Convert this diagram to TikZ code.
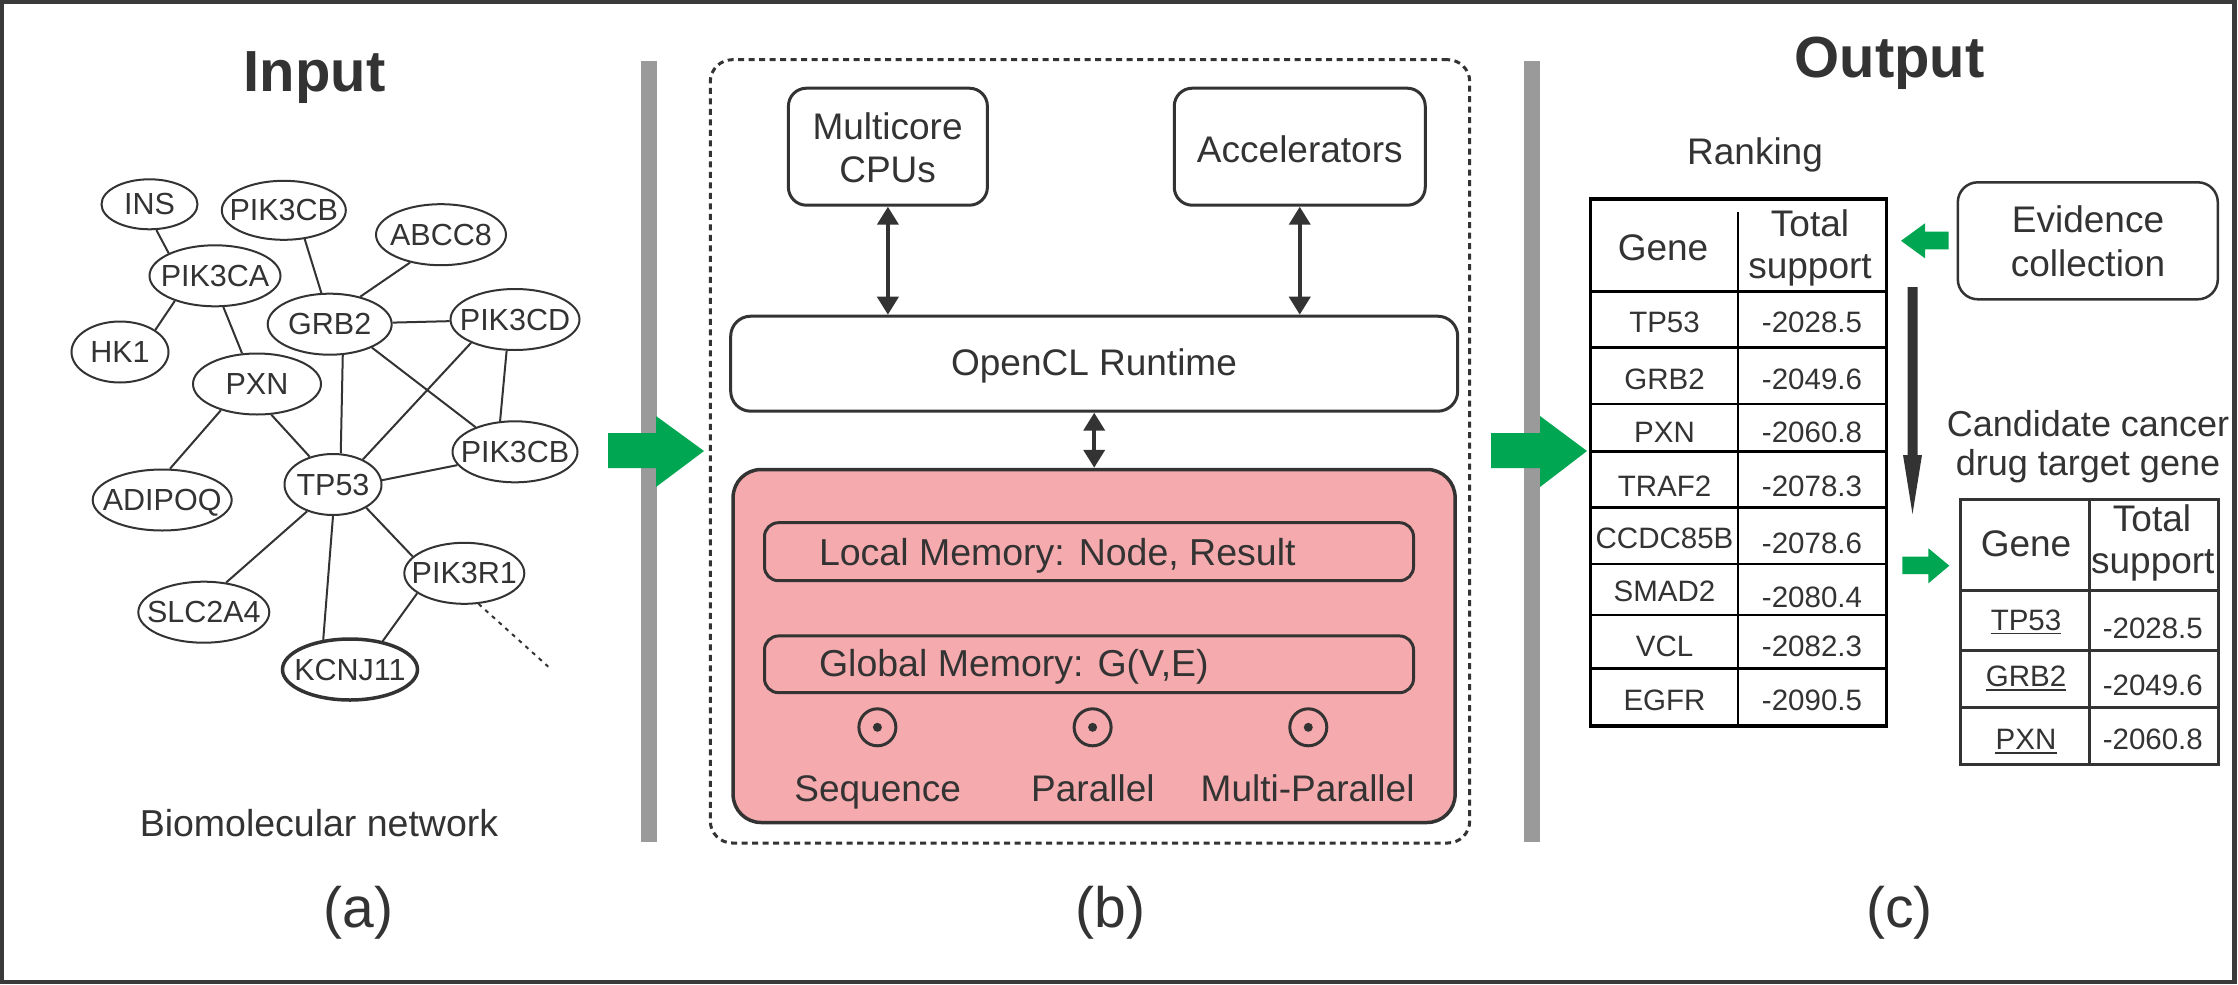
\documentclass[tikz,border=0pt]{standalone}
\usepackage{fontspec}
\setmainfont{Liberation Sans}
\usetikzlibrary{arrows.meta,shapes.geometric}
\definecolor{ink}{HTML}{333333}
\definecolor{framec}{HTML}{3A3A3A}
\definecolor{barc}{HTML}{9A9A9A}
\definecolor{grn}{HTML}{00A651}
\definecolor{pinkc}{HTML}{F5ABAE}
\newcommand\gtxt[1]{\raisebox{-0.5\height}[0pt][0pt]{\makebox[0pt]{#1}}}
\newcommand\fsz[1]{\fontsize{#1}{#1}\selectfont}
\begin{document}
\begin{tikzpicture}[x=1pt,y=-1pt,
  gene/.style={ellipse, draw=ink, line width=2pt, fill=white, inner sep=0pt, minimum height=61pt, text=ink, font=\fsz{30.5}},
  edge/.style={draw=ink, line width=2pt},
  lbl/.style={anchor=base, inner sep=0pt, text=ink},
  rbox/.style={draw=ink, line width=3pt, fill=white, inner sep=0pt, rounded corners=18pt},
  membox/.style={draw=ink, line width=3pt, inner sep=0pt, rounded corners=14pt, minimum width=649pt},
  dot/.style={circle, draw=ink, line width=3pt, minimum size=37pt, inner sep=0pt},
  dbl/.style={draw=ink, line width=4pt, {Triangle[width=21pt,length=18pt]}-{Triangle[width=21pt,length=18pt]}},
]
\useasboundingbox (0,0) rectangle (2238,985);
\fill[white] (0,0) rectangle (2238,985);
\draw[framec, line width=4.5pt] (2.2,2) rectangle (2234.3,982);

% separator bars
\fill[barc] (641,61) rectangle (657,842);
\fill[barc] (1524,61) rectangle (1540,842);

% ---------------- panel (a)
\node[lbl, font=\bfseries\fsz{58}] (input) at (314.7,91) {Input};

\node[gene, minimum width=96pt, minimum height=50pt] (ins) at (149.5,204.3) {\gtxt{INS}};
\node[gene, minimum width=124pt, minimum height=59pt] (pik3cba) at (283.8,210.3) {\gtxt{PIK3CB}};
\node[gene, minimum width=130pt] (abcc8) at (441,234.7) {\gtxt{ABCC8}};
\node[gene, minimum width=131pt] (pik3ca) at (215,275.8) {\gtxt{PIK3CA}};
\node[gene, minimum width=124pt] (grb2) at (329.7,324.2) {\gtxt{GRB2}};
\node[gene, minimum width=129pt] (pik3cd) at (515,319.5) {\gtxt{PIK3CD}};
\node[gene, minimum width=97pt] (hk1) at (120,352) {\gtxt{HK1}};
\node[gene, minimum width=128pt] (pxn) at (257,384) {\gtxt{PXN}};
\node[gene, minimum width=125pt] (pik3cbb) at (515,451.8) {\gtxt{PIK3CB}};
\node[gene, minimum width=97pt] (tp53) at (333,484.5) {\gtxt{TP53}};
\node[gene, minimum width=139pt] (adipoq) at (162.2,500) {\gtxt{ADIPOQ}};
\node[gene, minimum width=120pt] (pik3r1) at (464.3,573.3) {\gtxt{PIK3R1}};
\node[gene, minimum width=131pt] (slc2a4) at (203.8,612.2) {\gtxt{SLC2A4}};
\node[gene, minimum width=135pt, line width=3.5pt] (kcnj11) at (350,669.5) {\gtxt{KCNJ11}};
\coordinate (dotend) at (548.3,666.7);

\draw[edge] (ins.-75) -- (pik3ca.154);
\draw[edge] (pik3ca.212) -- (hk1.32);
\draw[edge] (pik3ca.-75) -- (pxn.116);
\draw[edge] (pik3cba.-54) -- (grb2.105);
\draw[edge] (pxn.216) -- (adipoq.76);
\draw[edge] (pxn.-65) -- (tp53.130);
\draw[edge] (grb2.-67) -- (tp53.76);
\draw[edge] (grb2.42) -- (abcc8.222);
\draw[edge] (grb2) -- (pik3cd);
\draw[edge] (grb2.-29) -- (pik3cbb.148);
\draw[edge] (pik3cd.208) -- (tp53.40);
\draw[edge] (pik3cd.255) -- (pik3cbb.116);
\draw[edge] (tp53.5) -- (pik3cbb.193);
\draw[edge] (tp53.-35) -- (pik3r1.162);
\draw[edge] (tp53.-90) -- (kcnj11.132);
\draw[edge] (pik3r1.203) -- (kcnj11.41);
\draw[edge] (tp53.226) -- (slc2a4.53);
\draw[ink, line width=2pt, dash pattern=on 4pt off 5pt] (pik3r1.-65) -- (dotend);

\node[lbl, font=\fsz{37.5}] (bionet) at (319,836) {Biomolecular network};
\node[lbl, font=\fsz{57}] (pa) at (358.7,927) {(a)};

% big green arrow (a)->(b)
\fill[grn] (608,433) -- (656,433) -- (656,416) -- (704,451) -- (656,487) -- (656,468) -- (608,468) -- cycle;

% ---------------- panel (b)
\node[draw=ink, line width=3pt, dash pattern=on 6pt off 4.5pt, rounded corners=22pt,
      minimum width=759.4pt, minimum height=783.3pt, inner sep=0pt] (hw) at (1090,451.35) {};
\node[rbox, minimum width=199pt, minimum height=117pt] (cpu) at (887.9,146.7) {};
\node[lbl, font=\fsz{37}] (cput1) at (887.6,139) {Multicore};
\node[lbl, font=\fsz{37}] (cput2) at (887.6,182) {CPUs};
\node[rbox, minimum width=251pt, minimum height=117pt] (acc) at (1299.75,146.7) {};
\node[lbl, font=\fsz{37}] (acct) at (1299.8,162) {Accelerators};
\node[rbox, minimum width=727pt, minimum height=95pt, rounded corners=20pt] (ocl) at (1094.2,363.7) {};
\node[lbl, font=\fsz{37}] (oclt) at (1094,375) {OpenCL Runtime};
\node[draw=ink, line width=3.5pt, fill=pinkc, rounded corners=28pt, minimum width=722pt,
      minimum height=353pt, inner sep=0pt] (dev) at (1094.1,646) {};
\node[membox, minimum height=58pt] (lmem) at (1089,551.7) {};
\node[lbl, anchor=base west, font=\fsz{37.5}] (lmemt) at (818.8,565) {Local Memory: Node, Result};
\node[membox, minimum height=56.7pt] (gmem) at (1089,664.3) {};
\node[lbl, anchor=base west, font=\fsz{37.5}] (gmemt) at (818.8,676.7) {Global Memory: G(V,E)};
\node[dot] (seqc) at (877.4,727.3) {};
\node[dot] (parc) at (1092.6,727.3) {};
\node[dot] (mparc) at (1308.3,727.3) {};
\fill[ink] (seqc.center) circle (4.5pt);
\fill[ink] (parc.center) circle (4.5pt);
\fill[ink] (mparc.center) circle (4.5pt);
\node[lbl, font=\fsz{37}] (seqt) at (877.7,801.7) {Sequence};
\node[lbl, font=\fsz{37}] (part) at (1092.9,801.7) {Parallel};
\node[lbl, font=\fsz{37}] (mpart) at (1307.6,801.7) {Multi-Parallel};

\draw[dbl] (cpu.south) -- (cpu.south |- ocl.north);
\draw[dbl] (acc.south) -- (acc.south |- ocl.north);
\draw[dbl] (ocl.south) -- (ocl.south |- dev.north);

\node[lbl, font=\fsz{57}] (pb) at (1110.4,927) {(b)};

% big green arrow (b)->(c)
\fill[grn] (1491,433) -- (1540,433) -- (1540,416) -- (1587,451) -- (1540,487) -- (1540,468) -- (1491,468) -- cycle;

% ---------------- panel (c)
\node[lbl, font=\bfseries\fsz{58}] (output) at (1889.5,77.5) {Output};
\node[lbl, font=\fsz{37}] (ranking) at (1755,164.6) {Ranking};

\draw[black, line width=3.5pt] (1590.5,199) rectangle (1886.3,726);
\draw[black, line width=2.5pt] (1738.2,212) -- (1738.2,726);
\foreach \yy in {291.7,347.7,404,451.7,507.7,564,615,668.7}
  \draw[black, line width=2.5pt] (1590.5,\yy) -- (1886.3,\yy);
\node[lbl, font=\fsz{37}] (rhg) at (1663,260) {Gene};
\node[lbl, font=\fsz{37}] (rht1) at (1810,236) {Total};
\node[lbl, font=\fsz{37}] (rht2) at (1810,278.3) {support};
\begin{scope}[every node/.style={lbl, font=\fsz{29.5}}]
\node (r1g) at (1664.5,332.7) {TP53};    \node (r1v) at (1812,332.7) {-2028.5};
\node (r2g) at (1664.5,389.3) {GRB2};    \node (r2v) at (1812,389.3) {-2049.6};
\node (r3g) at (1664.5,442.7) {PXN};     \node (r3v) at (1812,442.7) {-2060.8};
\node (r4g) at (1664.5,496.7) {TRAF2};   \node (r4v) at (1812,496.7) {-2078.3};
\node (r5g) at (1664.5,548.3) {CCDC85B}; \node (r5v) at (1812,553.3) {-2078.6};
\node (r6g) at (1664.5,601.7) {SMAD2};   \node (r6v) at (1812,607.3) {-2080.4};
\node (r7g) at (1664.5,656.7) {VCL};     \node (r7v) at (1812,656.7) {-2082.3};
\node (r8g) at (1664.5,710) {EGFR};      \node (r8v) at (1812,710) {-2090.5};
\end{scope}

\node[draw=ink, line width=2.5pt, rounded corners=20pt, minimum width=260pt, minimum height=117pt, inner sep=0pt] (evid) at (2087.8,240.8) {};
\node[lbl, font=\fsz{37}] (evt1) at (2088,232.7) {Evidence};
\node[lbl, font=\fsz{37}] (evt2) at (2088,276) {collection};

\fill[grn] (1901,240.8) -- (1925,223.3) -- (1925,231.7) -- (1948.5,231.7) -- (1948.5,249.3) -- (1925,249.3) -- (1925,258.3) -- cycle;
\fill[ink] (1907.5,287) -- (1917.5,287) -- (1917.5,455) -- (1922,455) -- (1912.5,514) -- (1903,455) -- (1907.5,455) -- cycle;
\fill[grn] (1902.3,556.7) -- (1928.4,556.7) -- (1928.4,548.3) -- (1949.3,565.7) -- (1928.4,583.3) -- (1928.4,574) -- (1902.3,574) -- cycle;

\node[lbl, font=\fsz{36}] (cand1) at (2088,436.7) {Candidate cancer};
\node[lbl, font=\fsz{36}] (cand2) at (2088,475.5) {drug target gene};

\draw[ink, line width=3pt] (1960.5,499.3) rectangle (2218.9,764);
\draw[ink, line width=3pt] (2089.3,499.3) -- (2089.3,764);
\foreach \yy in {590,650.7,707.3}
  \draw[ink, line width=3pt] (1960.5,\yy) -- (2218.9,\yy);
\node[lbl, font=\fsz{37}] (chg) at (2026,556.7) {Gene};
\node[lbl, font=\fsz{37}] (cht1) at (2152,531.7) {Total};
\node[lbl, font=\fsz{37}] (cht2) at (2152.8,573.3) {support};
\begin{scope}[every node/.style={lbl, font=\fsz{29.5}}]
\node (c1g) at (2026,630) {TP53};   \node (c1v) at (2152.8,638.3) {-2028.5};
\node (c2g) at (2026,686.7) {GRB2}; \node (c2v) at (2152.8,695) {-2049.6};
\node (c3g) at (2026,749.3) {PXN};  \node (c3v) at (2152.8,749.3) {-2060.8};
\end{scope}
\foreach \nn in {c1g,c2g,c3g}
  \draw[ink, line width=1.8pt] ([yshift=-3.5pt]\nn.base west) -- ([yshift=-3.5pt]\nn.base east);

\node[lbl, font=\fsz{57}] (pc) at (1899.3,927) {(c)};
\end{tikzpicture}
\end{document}
